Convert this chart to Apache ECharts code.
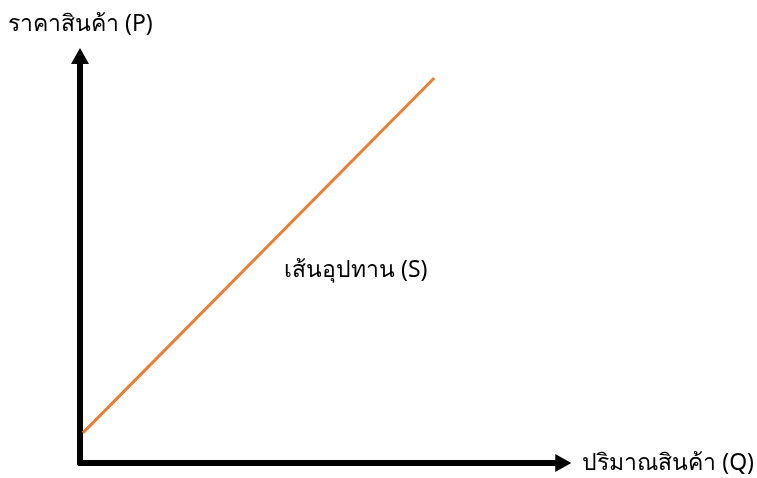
<!DOCTYPE html>
<html>
<head>
<meta charset="utf-8">
<script src="https://cdn.jsdelivr.net/npm/echarts@6/dist/echarts.min.js"></script>
<style>
  html, body { margin: 0; padding: 0; background: #fff; }
  #chart { width: 757px; height: 478px; }
</style>
</head>
<body>
<div id="chart"></div>
<script>
// supply line, quantity vs price (arbitrary units)
const supplyQ = [0.6, 73.3];
const supplyP = [7.4, 94.6];
const xName = "ปริมาณสินค้า (Q)";
const yName = "ราคาสินค้า (P)";
const lineName = "เส้นอุปทาน (S)";

const chart = echarts.init(document.getElementById("chart"));
const font = "'Noto Sans', 'DejaVu Sans', sans-serif";

let option = {
  animation: false,
  grid: { left: 80, right: 188, top: 56, bottom: 15 },
  xAxis: {
    type: "value",
    min: 0,
    max: 100,
    name: xName,
    nameLocation: "end",
    nameGap: 19,
    nameTextStyle: { color: "#000", fontSize: 23, fontFamily: font, verticalAlign: "middle" },
    axisLine: {
      lineStyle: { color: "#000", width: 6 },
      symbol: ["none", "triangle"],
      symbolSize: [18, 16],
      symbolOffset: [0, 0],
    },
    axisTick: { show: false },
    axisLabel: { show: false },
    splitLine: { show: false },
  },
  yAxis: {
    type: "value",
    min: 0,
    max: 100,
    name: yName,
    nameLocation: "end",
    nameGap: 20,
    nameTextStyle: { color: "#000", fontSize: 23, fontFamily: font, align: "left", padding: [0, 0, 0, -72] },
    axisLine: {
      lineStyle: { color: "#000", width: 6 },
      symbol: ["none", "triangle"],
      symbolSize: [18, 16],
      symbolOffset: [0, 0],
    },
    axisTick: { show: false },
    axisLabel: { show: false },
    splitLine: { show: false },
  },
  graphic: [
    {
      type: "text",
      left: 284,
      top: 259,
      style: { text: lineName, fontSize: 23, fontFamily: font, fill: "#000" },
    },
  ],
  series: [
    {
      type: "line",
      data: supplyQ.map((q, i) => [q, supplyP[i]]),
      symbol: "none",
      lineStyle: { color: "#ED7D31", width: 3 },
    },
  ],
};
chart.setOption(option);
</script>
</body>
</html>
